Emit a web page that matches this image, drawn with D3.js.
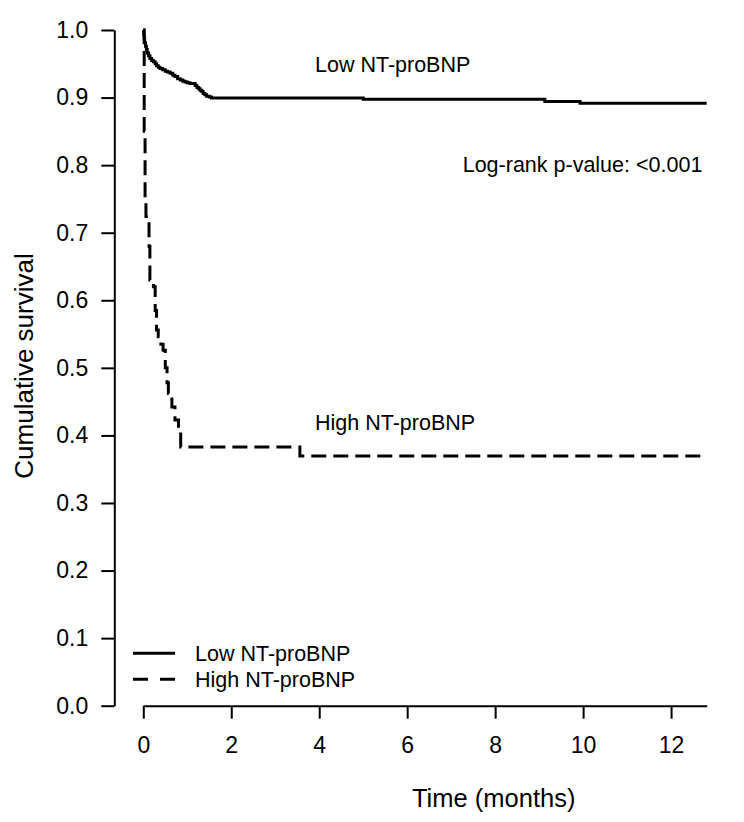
<!DOCTYPE html>
<html>
<head>
<meta charset="utf-8">
<script src="https://cdn.jsdelivr.net/npm/d3@7"></script>
<style>
  body { margin: 0; background: #fff; }
  svg { display: block; font-family: "Liberation Sans", Arial, sans-serif; }
</style>
</head>
<body>
<div id="chart"></div>
<script>
// Kaplan-Meier steps (time in months, survival)
let lowTimes = [0, 0.01, 0.02, 0.03, 0.05, 0.07, 0.09, 0.12, 0.15, 0.19, 0.23, 0.27, 0.30, 0.34, 0.38, 0.44, 0.50, 0.55, 0.61, 0.67, 0.72, 0.78, 0.84, 0.90, 0.95, 1.00, 1.06, 1.18, 1.22, 1.26, 1.29, 1.33, 1.36, 1.40, 1.44, 1.50, 1.55, 5.0, 9.13, 9.93, 12.81];
let lowSurv  = [1.0, 0.993, 0.987, 0.981, 0.976, 0.971, 0.966, 0.962, 0.958, 0.955, 0.953, 0.950, 0.947, 0.945, 0.943, 0.941, 0.939, 0.938, 0.936, 0.933, 0.931, 0.928, 0.926, 0.924, 0.923, 0.922, 0.921, 0.918, 0.915, 0.913, 0.911, 0.909, 0.906, 0.904, 0.902, 0.901, 0.8995, 0.8975, 0.894, 0.8915, 0.8915];

let highTimes = [0, 0.02, 0.04, 0.06, 0.11, 0.13, 0.15, 0.19, 0.23, 0.27, 0.30, 0.34, 0.40, 0.45, 0.50, 0.54, 0.57, 0.65, 0.72, 0.80, 0.85, 3.56, 12.81];
let highSurv  = [1.0, 0.85, 0.75, 0.724, 0.719, 0.68, 0.630, 0.625, 0.62, 0.585, 0.556, 0.546, 0.535, 0.526, 0.50, 0.478, 0.462, 0.442, 0.423, 0.411, 0.383, 0.3695, 0.3695];

let xTicks = [0, 2, 4, 6, 8, 10, 12];
let yTicks = [0, 0.1, 0.2, 0.3, 0.4, 0.5, 0.6, 0.7, 0.8, 0.9, 1.0];
let groupNames = ["Low NT-proBNP", "High NT-proBNP"];
let pValueText = "Log-rank p-value: <0.001";

let fullWidth = 744;
let fullHeight = 822;

let svg = d3.select("#chart").append("svg")
    .attr("width", fullWidth)
    .attr("height", fullHeight);

let x = d3.scaleLinear().domain([0, 12.81]).range([143.3, 706.7]);
let y = d3.scaleLinear().domain([0, 1]).range([705.7, 30]);

let zip = function(ts, ss) {
    return ts.map(function(t, i) { return {t: t, s: ss[i]}; });
};

let line = d3.line()
    .x(function(d) { return x(d.t); })
    .y(function(d) { return y(d.s); })
    .curve(d3.curveStepAfter);

// axes
let yAxis = svg.append("g")
    .attr("transform", "translate(114.3,0)")
    .call(d3.axisLeft(y).tickValues(yTicks).tickSize(13).tickSizeOuter(0).tickPadding(13)
        .tickFormat(d3.format(".1f")));

let xAxis = svg.append("g")
    .attr("transform", "translate(0,705.7)")
    .call(d3.axisBottom(x).tickValues(xTicks).tickSize(13).tickSizeOuter(0).tickPadding(18.3)
        .tickFormat(d3.format("d")));

yAxis.attr("font-size", 23).attr("font-family", "Liberation Sans, Arial, sans-serif");
xAxis.attr("font-size", 23).attr("font-family", "Liberation Sans, Arial, sans-serif");

svg.selectAll(".domain, .tick line")
    .attr("stroke", "#000")
    .attr("stroke-width", 2);
svg.selectAll(".tick text")
    .attr("fill", "#000");

svg.append("text")
    .attr("transform", "translate(33,366) rotate(-90)")
    .attr("text-anchor", "middle")
    .attr("font-size", 26)
    .text("Cumulative survival");

svg.append("text")
    .attr("x", 493.7)
    .attr("y", 807)
    .attr("text-anchor", "middle")
    .attr("font-size", 25.5)
    .text("Time (months)");

// curves
svg.append("path")
    .datum(zip(lowTimes, lowSurv))
    .attr("d", line)
    .attr("fill", "none")
    .attr("stroke", "#000")
    .attr("stroke-width", 3);

svg.append("path")
    .datum(zip(highTimes, highSurv))
    .attr("d", line)
    .attr("fill", "none")
    .attr("stroke", "#000")
    .attr("stroke-width", 3)
    .attr("stroke-dasharray", "15,7");

// annotations
svg.append("text")
    .attr("x", 315).attr("y", 72)
    .attr("font-size", 21.5)
    .text(groupNames[0]);

svg.append("text")
    .attr("x", 315).attr("y", 430)
    .attr("font-size", 21.5)
    .text(groupNames[1]);

svg.append("text")
    .attr("x", 462.7).attr("y", 171.7)
    .attr("font-size", 21.5)
    .text(pValueText);

// legend
let legend = svg.selectAll(".legend")
    .data(groupNames)
    .enter()
    .append("g")
    .attr("class", "legend")
    .attr("transform", function(d, i) { return "translate(0," + (653.3 + i * 26) + ")"; });

legend.append("line")
    .attr("x1", 133).attr("x2", 175)
    .attr("y1", 0).attr("y2", 0)
    .attr("stroke", "#000")
    .attr("stroke-width", 3)
    .attr("stroke-dasharray", function(d, i) { return i === 1 ? "15,12" : null; });

legend.append("text")
    .attr("x", 195)
    .attr("y", 8)
    .attr("font-size", 21.5)
    .text(function(d) { return d; });
</script>
</body>
</html>
